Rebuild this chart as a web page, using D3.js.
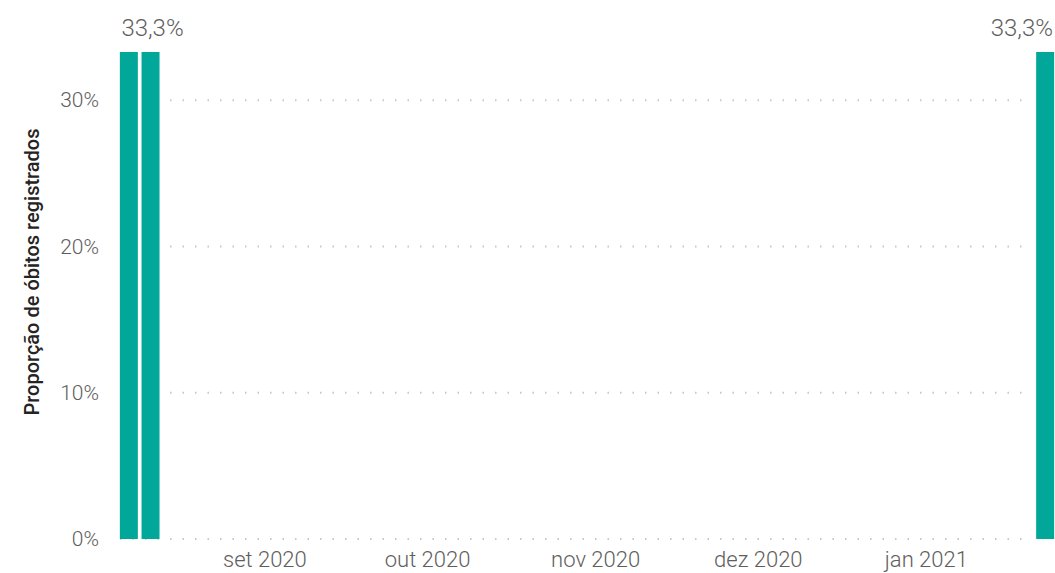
<!DOCTYPE html>
<html lang="pt">
<head>
<meta charset="UTF-8">
<script src="https://d3js.org/d3.v7.min.js"></script>
<title>Proporção de óbitos registrados</title>
<style>
    body { margin: 0; background: #fff; }
    svg text { font-family: Roboto, "Noto Sans", sans-serif; }
</style>
</head>
<body>
<svg id="chart" width="1055" height="573"></svg>
<script>
    // data
    const dates = ["2020-08-07", "2020-08-11", "2021-01-23"];
    const values = [0.333, 0.333, 0.333];
    const yTicks = [0, 0.1, 0.2, 0.3];
    const xTicks = ["2020-09-01", "2020-10-01", "2020-11-01", "2020-12-01", "2021-01-01"];
    const monthNames = ["jan", "fev", "mar", "abr", "mai", "jun", "jul", "ago", "set", "out", "nov", "dez"];

    const parse = d3.timeParse("%Y-%m-%d");
    const data = dates.map((d, i) => ({ date: parse(d), value: values[i] }));

    const svg = d3.select("#chart");
    const W = 1055;
    const plot = { left: 118, right: 1056, top: 52, bottom: 539 };

    const x = d3.scaleTime()
        .domain([parse("2020-08-05"), parse("2021-01-25")])
        .range([plot.left, plot.right]);

    const y = d3.scaleLinear()
        .domain([0, 0.333])
        .range([plot.bottom, plot.top]);

    const dayW = x(parse("2020-08-02")) - x(parse("2020-08-01"));
    const barW = dayW * 4 * 0.83;

    // grid
    svg.append("g")
        .selectAll("line")
        .data(yTicks)
        .join("line")
        .attr("x1", 120)
        .attr("x2", 1032)
        .attr("y1", d => y(d))
        .attr("y2", d => y(d))
        .attr("stroke", "#c8c8c8")
        .attr("stroke-width", 2)
        .attr("stroke-dasharray", "1.5,11");

    // y axis
    const yAxis = svg.append("g")
        .attr("transform", "translate(99,0)")
        .call(d3.axisLeft(y).tickValues(yTicks).tickSize(0).tickPadding(0)
            .tickFormat(d => Math.round(d * 100) + "%"));
    yAxis.select(".domain").remove();
    yAxis.selectAll("text")
        .attr("font-size", 21)
        .attr("font-weight", 300)
        .attr("fill", "#605E5C");

    svg.append("text")
        .attr("transform", "translate(39,272) rotate(-90)")
        .attr("text-anchor", "middle")
        .attr("font-size", 20)
        .attr("font-weight", 500)
        .attr("fill", "#252423")
        .text("Proporção de óbitos registrados");

    // x axis
    const xAxis = svg.append("g")
        .attr("transform", `translate(0,${plot.bottom + 12})`)
        .call(d3.axisBottom(x).tickValues(xTicks.map(parse)).tickSize(0).tickPadding(0)
            .tickFormat(d => monthNames[d.getMonth()] + " " + d.getFullYear()));
    xAxis.select(".domain").remove();
    xAxis.selectAll("text")
        .attr("font-size", 22)
        .attr("font-weight", 300)
        .attr("fill", "#605E5C");

    // bars
    svg.append("g")
        .selectAll("rect")
        .data(data)
        .join("rect")
        .attr("x", d => x(d.date) - barW / 2)
        .attr("width", barW)
        .attr("y", d => y(d.value))
        .attr("height", d => y(0) - y(d.value))
        .attr("fill", "#01A89A");

    // labels, from the right; skip any that would collide
    const labels = svg.append("g");
    let lastLeft = Infinity;
    data.slice().reverse().forEach(d => {
        const t = labels.append("text")
            .attr("font-size", 24)
            .attr("font-weight", 300)
            .attr("fill", "#605E5C")
            .attr("text-anchor", "middle")
            .attr("y", y(d.value) - 16)
            .text(d3.format(".1f")(d.value * 100).replace(".", ",") + "%");
        const w = t.node().getBBox().width;
        const cx = Math.min(x(d.date) + 2, W - 2 - w / 2);
        if (cx + w / 2 > lastLeft - 4) { t.remove(); return; }
        t.attr("x", cx);
        lastLeft = cx - w / 2;
    });
</script>
</body>
</html>
